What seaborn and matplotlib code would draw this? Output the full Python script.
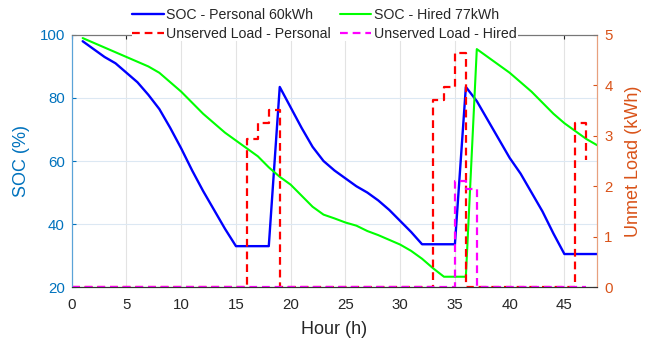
import numpy as np
import pandas as pd
import matplotlib
matplotlib.use("Agg")
import matplotlib.pyplot as plt
import seaborn as sns

# SOC series, hours 1..48
horas_soc = list(range(1, 49))
soc_pessoal = [98, 95.5, 93, 91, 88, 85, 81, 76.5, 70.5, 64, 57, 50.5, 44.5, 38.5, 33, 33,
               33, 33, 83.5, 77, 70.5, 64.5, 60, 57, 54.5, 52, 50, 47.5, 44.5, 41, 37.5, 33.6,
               33.6, 33.6, 33.6, 83.5, 79, 73, 67, 61, 56, 50, 44, 37, 30.5, 30.5, 30.5, 30.5]
soc_alugado = [99, 97.5, 96, 94.5, 93, 91.5, 90, 88, 85, 82, 78.5, 75, 72, 69, 66.5, 64,
               61.5, 58, 55, 52.5, 49, 45.5, 43, 41.8, 40.5, 39.5, 37.8, 36.5, 35, 33.5, 31.5, 29,
               26, 23.3, 23.3, 23.3, 95.5, 93, 90.5, 88, 85, 82, 78.5, 75, 72, 69.5, 67, 65]

# unserved load (kWh), hours 0..47
horas_carga = list(range(0, 48))
carga_pessoal = [0] * 48
carga_pessoal[16:19] = [2.93, 3.25, 3.51]
carga_pessoal[33:36] = [3.71, 3.97, 4.64]
carga_pessoal[46:48] = [3.25, 2.52]
carga_alugado = [0] * 48
carga_alugado[35:37] = [2.1, 1.95]

cor_esq = "#0072BD"
cor_dir = "#D95319"

sns.set_style("white")
plt.rcParams["font.family"] = ["Liberation Sans", "DejaVu Sans"]
plt.rcParams["xtick.direction"] = "in"
plt.rcParams["ytick.direction"] = "in"

fig, ax = plt.subplots(figsize=(6.52, 3.39), dpi=100)
fig.subplots_adjust(left=0.110, right=0.916, top=0.897, bottom=0.153)

df_soc = pd.DataFrame({"h": horas_soc, "p": soc_pessoal, "a": soc_alugado})
df_carga = pd.DataFrame({"h": horas_carga, "p": carga_pessoal, "a": carga_alugado})

sns.lineplot(data=df_soc, x="h", y="p", ax=ax, color="#0000ff", linewidth=1.7,
             label="SOC - Personal 60kWh", legend=False)
sns.lineplot(data=df_soc, x="h", y="a", ax=ax, color="#00ff00", linewidth=1.5,
             label="SOC - Hired 77kWh", legend=False)

ax2 = ax.twinx()
sns.lineplot(data=df_carga, x="h", y="p", ax=ax2, color="#ff0000", linewidth=1.6,
             drawstyle="steps-post", linestyle=(0, (3.5, 2.2)),
             label="Unserved Load - Personal", legend=False)
sns.lineplot(data=df_carga, x="h", y="a", ax=ax2, color="#ff00ff", linewidth=1.6,
             drawstyle="steps-post", linestyle=(0, (3.5, 2.2)),
             label="Unserved Load - Hired", legend=False)

ax.set_xlim(0, 48)
ax.set_ylim(20, 100)
ax2.set_ylim(0, 5)
ax.set_xticks(range(0, 50, 5))
ax.set_yticks(range(20, 101, 20))
ax2.set_yticks(range(0, 6))

ax.grid(axis="x", color="#e3e3e3", linewidth=0.8)
ax.grid(axis="y", color="#dce8f3", linewidth=0.8)
ax.set_axisbelow(True)

ax.set_xlabel("Hour (h)", fontsize=13, color="#262626", labelpad=6)
ax.set_ylabel("SOC (%)", fontsize=13, color=cor_esq, labelpad=7)
ax2.set_ylabel("Unmet Load (kWh)", fontsize=13, color=cor_dir, labelpad=9)

ax.tick_params(axis="x", labelsize=10.8, colors="#262626", length=3, top=True, pad=8)
ax.tick_params(axis="y", labelsize=10.8, colors=cor_esq, length=3, pad=5)
ax2.tick_params(axis="y", labelsize=10.8, colors=cor_dir, length=3, pad=5)

for a in (ax, ax2):
    a.spines["top"].set_color("#777777")
    a.spines["bottom"].set_color("#333333")
    a.spines["left"].set_color("#5aa3d8")
    a.spines["right"].set_color("#e8a07e")
    for s in a.spines.values():
        s.set_linewidth(0.8)

h1, l1 = ax.get_legend_handles_labels()
h2, l2 = ax2.get_legend_handles_labels()
handles = [h1[0], h2[0], h1[1], h2[1]]
labels = [l1[0], l2[0], l1[1], l2[1]]
leg = ax2.legend(handles, labels, ncol=2, loc="upper center",
                 bbox_to_anchor=(0.498, 1.0), bbox_transform=fig.transFigure,
                 fontsize=10.2, frameon=True, framealpha=1, facecolor="white",
                 edgecolor="none", fancybox=False, borderpad=0.05,
                 handlelength=2.2, handletextpad=0.2, columnspacing=0.65,
                 labelspacing=0.35)

fig.savefig("out.png", dpi=100)
